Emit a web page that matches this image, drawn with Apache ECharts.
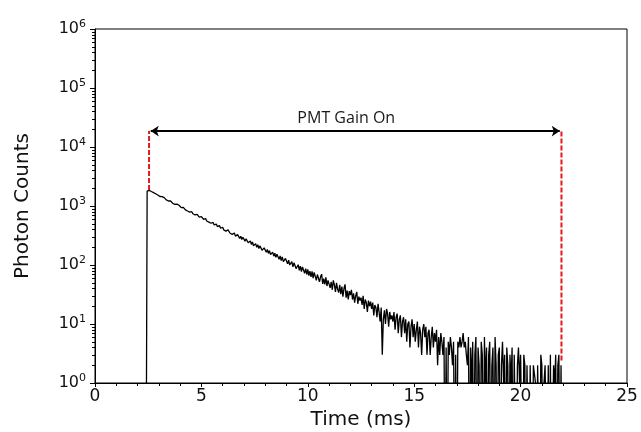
<!DOCTYPE html>
<html>
<head>
<meta charset="utf-8">
<script src="https://cdn.jsdelivr.net/npm/echarts@6/dist/echarts.min.js"></script>
<style>
  html, body { margin: 0; padding: 0; background: #fff; }
  #chart { width: 641px; height: 432px; }
</style>
</head>
<body>
<div id="chart"></div>
<script>
// photon counts per 0.05 ms bin, first bin at 2.40 ms
const binStart = 2.40;
const binWidth = 0.05;
const photonCounts = [
  0, 1790,
  1872, 1835, 1802, 1760, 1731, 1690, 1668, 1615, 1604, 1538,
  1540, 1448, 1476, 1440, 1351, 1385, 1295, 1270, 1302, 1215,
  1188, 1221, 1192, 1112, 1146, 1066, 1044, 1077, 999, 1030,
  1010, 936, 918, 950, 930, 858, 892, 822, 853, 789,
  772, 800, 738, 768, 707, 695, 722, 706, 648, 676,
  662, 648, 596, 583, 611, 557, 585, 533, 562, 510,
  501, 526, 478, 505, 494, 448, 438, 465, 420, 446,
  436, 393, 418, 376, 368, 394, 385, 345, 369, 330,
  323, 348, 309, 302, 327, 320, 282, 307, 271, 295,
  290, 254, 278, 271, 238, 232, 256, 222, 245, 212,
  208, 230, 199, 221, 190, 211, 207, 178, 175, 195,
  191, 164, 183, 157, 175, 150, 146, 165, 141, 158,
  135, 152, 149, 125, 142, 119, 137, 114, 112, 129,
  127, 105, 121, 100, 98, 114, 93, 109, 107, 87,
  85, 101, 81, 96, 77, 93, 91, 72, 87, 69,
  84, 66, 79, 63, 78, 60, 75, 70, 55, 69,
  68, 52, 63, 70, 48, 59, 47, 62, 44, 55,
  57, 41, 52, 38, 55, 46, 35, 50, 39, 34,
  46, 32, 43, 29, 40, 47, 28, 37, 26, 36,
  31, 38, 26, 33, 23, 30, 35, 22, 29, 25,
  28, 21, 30, 18, 26, 23, 16, 25, 20, 24,
  18, 23, 14, 21, 19, 13, 22, 16, 11, 19,
  3, 12, 17, 10, 18, 15, 9, 16, 12, 14,
  11, 16, 8, 13, 15, 7, 12, 14, 6, 11,
  13, 7, 12, 5, 10, 11, 4, 9, 12, 6,
  10, 5, 8, 11, 4, 9, 7, 3, 8, 10,
  6, 9, 3, 7, 8, 3, 6, 9, 4, 7,
  5, 8, 2, 6, 3, 7, 5, 3, 6, 0,
  4, 0, 5, 3, 6, 4, 2, 5, 0, 3,
  0, 5, 4, 6, 4, 5, 7, 4, 5, 3,
  2, 6, 0, 4, 1, 5, 0, 3, 6, 0,
  4, 2, 0, 5, 3, 0, 6, 1, 4, 0,
  3, 5, 0, 2, 4, 0, 6, 2, 0, 3,
  4, 0, 2, 5, 1, 3, 0, 4, 2, 0,
  3, 1, 4, 0, 3, 3, 0, 2, 4, 1,
  3, 3, 0, 3, 2, 0, 2, 2, 0, 2,
  2, 0, 2, 2, 1, 0, 2, 2, 0, 3,
  2, 0, 1, 2, 2, 0, 2, 0, 3, 0,
  0, 2, 1, 3, 0, 2, 3, 0, 2, 0
];

// gate annotation
const gateTimes = [2.54, 21.92];
const gateBottoms = [1860, 2.4];
const gateTop = 18600;
const arrowTimes = [2.62, 21.84];
const gateLabel = 'PMT Gain On';

const yDecades = [0, 1, 2, 3, 4, 5, 6];

// zero counts fall below the log axis, like the original plot
const zeroFloor = 0.01;

const decaySeries = photonCounts.map((c, i) => [
  Math.round((binStart + i * binWidth) * 100) / 100,
  c > 0 ? c : zeroFloor
]);

const minorTicks = [];
yDecades.slice(0, -1).forEach(d => {
  for (let m = 2; m <= 9; m++) minorTicks.push([0, m * Math.pow(10, d)]);
});

const txt = '#111';
const font = 'DejaVu Sans';

const chart = echarts.init(document.getElementById('chart'));
chart.setOption({
  animation: false,
  backgroundColor: '#fff',
  grid: {
    left: 95, right: 14, top: 29, bottom: 49,
    show: true, borderColor: '#000', borderWidth: 1,
    containLabel: false, outerBoundsMode: 'none'
  },
  xAxis: {
    type: 'value', min: 0, max: 25, interval: 5,
    axisLine: { show: true, lineStyle: { color: '#000', width: 1 } },
    axisTick: { show: true, inside: false, length: 4, lineStyle: { color: '#000' } },
    minorTick: { show: true, splitNumber: 5, length: 3, lineStyle: { color: '#000' } },
    splitLine: { show: false },
    axisLabel: { color: txt, fontFamily: font, fontSize: 17, margin: 5 },
    name: 'Time (ms)', nameLocation: 'middle', nameGap: 21,
    nameTextStyle: { color: txt, fontFamily: font, fontSize: 20 }
  },
  yAxis: {
    type: 'log', logBase: 10, min: 1, max: 1e6, splitNumber: 6,
    axisLine: { show: true, lineStyle: { color: '#000', width: 1 } },
    axisTick: { show: true, inside: false, length: 5, lineStyle: { color: '#000' } },
    splitLine: { show: false },
    axisLabel: {
      margin: 9,
      formatter: v => '{b|10}{s|' + Math.round(Math.log10(v)) + '}',
      rich: {
        b: { fontSize: 16, fontFamily: font, color: txt },
        s: { fontSize: 11, fontFamily: font, color: txt, padding: [0, 0, 9, 0] }
      }
    },
    name: 'Photon Counts', nameLocation: 'middle', nameGap: 62,
    nameTextStyle: { color: txt, fontFamily: font, fontSize: 20 }
  },
  series: [
    {
      type: 'line',
      data: decaySeries,
      showSymbol: false,
      symbol: 'none',
      clip: true,
      lineStyle: { color: '#000', width: 1.3 },
      z: 3,
      markLine: {
        silent: true,
        symbol: ['arrow', 'arrow'],
        symbolSize: 8,
        lineStyle: { color: '#000', width: 2, type: 'solid' },
        label: {
          show: true, formatter: gateLabel, position: 'insideMiddleTop', distance: 5,
          padding: [0, 18, 0, 0],
          color: '#1a1a1a', fontFamily: 'Open Sans', fontSize: 16
        },
        data: [[
          { coord: [arrowTimes[0], gateTop] },
          { coord: [arrowTimes[1], gateTop] }
        ]]
      }
    },
    ...gateTimes.map((t, i) => ({
      type: 'line',
      data: [[t, gateBottoms[i]], [t, gateTop]],
      symbol: 'none',
      clip: false,
      lineStyle: { color: '#e3191c', width: 2, type: [5, 2] },
      z: 4
    })),
    {
      type: 'custom',
      silent: true,
      clip: false,
      data: minorTicks,
      renderItem: (params, api) => {
        const p = api.coord([api.value(0), api.value(1)]);
        const y = Math.round(p[1]) + 0.5;
        return {
          type: 'line',
          shape: { x1: p[0], y1: y, x2: p[0] - 3, y2: y },
          style: { stroke: '#000', lineWidth: 1 }
        };
      }
    }
  ]
});
</script>
</body>
</html>
